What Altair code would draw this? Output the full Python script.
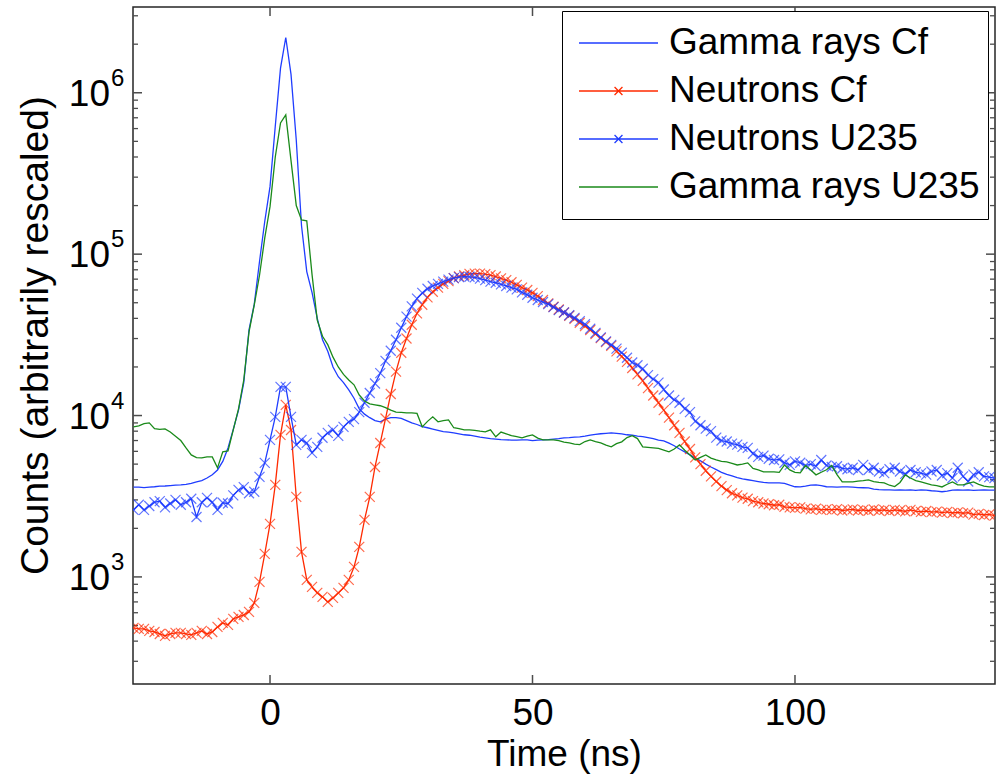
import altair as alt
import pandas as pd

# ---------------- data ----------------
T = list(range(-26, 139))  # time in ns, 1 ns bins

GAMMA_CF = [
    3600, 3600, 3580, 3600, 3620, 3650, 3660, 3680, 3700, 3720, 3750, 3800, 3880, 3950, 4100, 4300,
    4600, 5200, 6300, 8200, 10800, 16000, 34000, 49000, 90000, 160000,
    262000, 620000, 1420000, 2200000, 1300000, 510000, 150000, 78000, 58000, 40000, 29500, 25000, 20000,
    17400, 16000, 14400, 12800, 11000, 10200, 9700, 9300, 9150, 9500, 9700, 9700, 9600,
    9300, 9000, 8800, 8550, 8400, 8250, 8100, 7950, 7900, 7800, 7700, 7600, 7550, 7450, 7350,
    7270, 7200, 7150, 7100, 7070, 7050, 7050, 7070, 7070, 7000, 7050, 7070, 7100, 7150, 7200,
    7270, 7300, 7350, 7380, 7450, 7550, 7650, 7710, 7760, 7810, 7750, 7700, 7600, 7550, 7450,
    7400, 7300, 7200, 7050, 6970, 6750, 6500, 6200, 5950, 5700, 5450, 5250, 5000, 4800, 4620,
    4450, 4320, 4230, 4130, 4050, 4000, 3950, 3900, 3850, 3830, 3830, 3830, 3800, 3700, 3620,
    3610, 3650, 3700, 3720, 3680, 3620, 3610, 3600, 3610, 3610, 3600, 3580, 3570, 3560, 3500,
    3470, 3460, 3460, 3450, 3460, 3450, 3460, 3440, 3460, 3450, 3420, 3400, 3370, 3400, 3450,
    3460, 3450, 3460, 3440, 3450, 3460, 3450, 3450,
]

NEUTRONS_CF = [
    483, 476, 476, 463, 456, 443, 431, 443, 450, 450, 443, 437, 450, 463, 443, 456,
    490, 519, 504, 550, 565, 581, 607, 690, 931, 1390,
    2130, 3720, 7590, 11650, 8140, 3130, 1430, 958, 867, 796, 752, 700, 741,
    796, 855, 958, 1153, 1534, 2255, 3130, 4800, 6760, 9580, 13600, 18700, 24500,
    30000, 36500, 43000, 48600, 54000, 58500, 62000, 65500, 68000, 71000, 72800, 74000, 75500, 75800, 75800,
    75200, 74200, 72700, 70800, 69000, 67000, 64500, 62000, 60000, 57600, 55000, 52000, 49500, 47200, 45400,
    43500, 41500, 39800, 37600,
    35800, 33900, 32000, 30200, 28500, 27000, 25000, 23200, 21500, 19700, 18000, 16400, 14800, 13300, 12000,
    10800, 9700, 8700, 7800, 6900, 6200, 5500, 5000, 4550, 4200, 3900, 3650, 3450, 3300, 3200,
    3100, 3050, 2950, 2900, 2850, 2820, 2780, 2800, 2720, 2700, 2680, 2700, 2650, 2620, 2650,
    2600, 2620, 2600, 2630, 2580, 2600, 2620, 2580, 2600, 2570, 2620, 2580, 2600, 2560, 2600,
    2580, 2550, 2600, 2560, 2530, 2560, 2520, 2540, 2500, 2530, 2490, 2510, 2480, 2500, 2430,
    2460, 2420, 2440, 2400,
]

NEUTRONS_U235 = [
    2600, 2800, 2600, 2750, 2900, 2950, 2700, 2850, 3000, 2800, 2900, 3050, 2350, 2900, 3090, 2900,
    2600, 2880, 2850, 3200, 3460, 3600, 3300, 3370, 4170, 5090,
    7070, 9820, 15060, 15060, 9820, 6580, 7070, 6770, 5870, 6400, 7280, 7800, 8150, 7480, 8510, 9140, 9500,
    10500, 12000, 13800, 15800, 18300, 21800, 25200, 29500, 35000, 41000, 47500, 53000, 57500, 61000,
    63500, 65500, 67500, 69500, 71000, 72000, 72500, 72400, 71800, 70500, 69000, 67500, 66500, 65000, 63500,
    62000, 60500, 58000, 56000, 53700, 52000, 50500, 49000, 47000, 45000, 43500, 41800, 40300, 38500, 36800,
    34500, 32500, 30500, 28800, 27400,
    26000, 24500, 22800, 21300, 20500, 19500, 17800, 16800, 16000, 14500, 13300, 12500, 12000, 11000, 10500,
    9200, 8700, 8300, 8000, 7300, 7000, 6900, 6700, 6600, 6400, 6300, 5800, 5550, 5650, 5400,
    5300, 5350, 5100, 4950, 5200, 5100, 4900, 5000, 4850, 5300, 4900, 4800, 4850, 4700, 4650,
    4750, 4600, 4950, 4600, 4750, 4500, 4400, 4650, 4750, 4500, 4350, 4600, 4450, 4400, 4300,
    4500, 4600, 4250, 4400, 4100, 4750, 4200, 3900, 4300, 4450, 4200, 4150, 4100,
]

GAMMA_U235 = [
    8500, 8630, 8900, 9010, 8300, 8200, 8270, 7900, 7450, 7000, 6300, 5700, 5480, 5470, 5540, 5540,
    4740, 5960, 6040, 8150, 11000, 16600, 33000, 48500, 74000, 126000,
    197000, 400000, 650000, 730000, 380000, 200000, 163000, 161000, 75000, 39000, 31000, 27500, 23000,
    20000, 18000, 16600, 15500, 13400, 12300, 11800, 11650, 11500, 11200, 10800, 10500, 10450,
    10400, 10400, 10300, 8510, 9200, 9820, 9140, 9300, 9400, 8400, 8300, 8150, 8150, 8100, 8000,
    7925, 8150, 7380, 7900, 7700, 7500, 7400, 7270, 7450, 7590, 7250, 7070, 7070, 7070, 7000,
    6850, 6770, 6650, 6600, 6900, 7070, 6900, 6770, 6550, 6400, 6700, 6870, 7300, 7500, 7200,
    6400, 6350, 6310, 6250, 6100, 5960, 6200, 6580, 6100, 5700, 5310, 5500, 5700, 5450, 5310,
    5200, 5160, 5050, 4940, 5000, 5090, 4700, 4600, 4480, 4480, 4480, 4450, 4940, 4600, 4450,
    4410, 4900, 4600, 4290, 4450, 4610, 4900, 4300, 3880, 3880, 3880, 3920, 3950, 3990, 3900,
    3850, 3830, 3700, 3630, 3850, 4290, 4100, 3950, 3880, 3800, 3720, 3680, 3610, 3750, 3880,
    3720, 3720, 3800, 3880, 3750, 3650, 3610, 3610,
]

SERIES = ["Gamma rays Cf", "Neutrons Cf", "Neutrons U235", "Gamma rays U235"]
COLORS = ["#1f3dff", "#ff2a00", "#1f3dff", "#1a8a1a"]

X_TICKS = [0, 50, 100]
Y_MAJOR = [1e3, 1e4, 1e5, 1e6]
Y_EXP = ["3", "4", "5", "6"]
Y_MINOR = ([k * 100 for k in range(3, 10)] + [k * 1000 for k in range(2, 10)] +
           [k * 10000 for k in range(2, 10)] + [k * 100000 for k in range(2, 10)] +
           [2000000, 3000000])

# ---------------- build ----------------
rows = []
for name, vals in zip(SERIES, [GAMMA_CF, NEUTRONS_CF, NEUTRONS_U235, GAMMA_U235]):
    for t, v in zip(T, vals):
        rows.append({"t": t, "value": v, "series": name})
df = pd.DataFrame(rows)

W, H = 862, 677
FONT = "Liberation Sans"
FRAME = "#262626"
TICK = "#4d4d4d"
XPATH = "M-1,-1L1,1M-1,1L1,-1"
LINE_SYM = "M-1,0L1,0"
LINE_X_SYM = "M-1,0L1,0M-0.1,-0.1L0.1,0.1M-0.1,0.1L0.1,-0.1"

xscale = alt.Scale(domain=[-26.1, 138.1], nice=False, zero=False)
yscale = alt.Scale(type="log", domain=[217, 3.4e6], nice=False)

x_enc = alt.X("t:Q", scale=xscale, axis=alt.Axis(
    values=X_TICKS, ticks=False, domain=False, grid=False,
    labelFontSize=37, labelPadding=11, labelColor="black", labelFont=FONT,
    title="Time (ns)", titleFontSize=37, titleFontWeight="normal", titleFont=FONT,
    titleColor="black", titleY=70, titleBaseline="middle"))
y_enc = alt.Y("value:Q", scale=yscale, axis=alt.Axis(
    labels=False, ticks=False, domain=False, grid=False,
    title="Counts (arbitrarily rescaled)", titleFontSize=39, titleFontWeight="normal",
    titleFont=FONT, titleColor="black", titleAngle=-90, titleX=-98, titleY=328,
    titleAlign="center", titleBaseline="middle"))

base = alt.Chart(df)
layers = []
for name, col in zip(SERIES, COLORS):
    sub = base.transform_filter(alt.datum.series == name)
    layers.append(sub.mark_line(color=col, strokeWidth=1.3, clip=True).encode(x=x_enc, y=y_enc))
    if name.startswith("Neutrons"):
        layers.append(sub.mark_point(shape=XPATH, size=100, color=col, strokeWidth=1.2,
                                     filled=False, clip=True).encode(x=x_enc, y=y_enc))

# legend (hidden marks, legend only)
leg = alt.Legend(orient="none", legendX=429, legendY=4, padding=8, strokeColor="black",
                 fillColor="white", clipHeight=48, rowPadding=0, symbolOffset=8, labelOffset=10,
                 symbolSize=6241, symbolStrokeWidth=1.3, symbolOpacity=1, labelFontSize=37,
                 labelFont=FONT, labelColor="black", labelLimit=500, title=None)
legend_layer = alt.Chart(pd.DataFrame({"series": SERIES})).mark_point(opacity=0, filled=False).encode(
    color=alt.Color("series:N", scale=alt.Scale(domain=SERIES, range=COLORS), legend=leg),
    shape=alt.Shape("series:N", scale=alt.Scale(domain=SERIES,
                    range=[LINE_SYM, LINE_X_SYM, LINE_X_SYM, LINE_SYM]), legend=leg),
)

# inward ticks
ymaj = alt.Chart(pd.DataFrame({"value": Y_MAJOR}))
ymin = alt.Chart(pd.DataFrame({"value": Y_MINOR}))
xt = alt.Chart(pd.DataFrame({"t": X_TICKS}))
ticks = [
    ymaj.mark_rule(color=TICK, strokeWidth=1.5).encode(y=y_enc, x=alt.value(0), x2=alt.value(9)),
    ymaj.mark_rule(color=TICK, strokeWidth=1.5).encode(y=y_enc, x=alt.value(W), x2=alt.value(W - 9)),
    ymin.mark_rule(color=TICK, strokeWidth=1.3).encode(y=y_enc, x=alt.value(0), x2=alt.value(5)),
    ymin.mark_rule(color=TICK, strokeWidth=1.3).encode(y=y_enc, x=alt.value(W), x2=alt.value(W - 5)),
    xt.mark_rule(color=TICK, strokeWidth=1.5).encode(x=x_enc, y=alt.value(H), y2=alt.value(H - 9)),
    xt.mark_rule(color=TICK, strokeWidth=1.5).encode(x=x_enc, y=alt.value(0), y2=alt.value(9)),
]

# y tick labels 10^n
ylab_df = pd.DataFrame({"value": Y_MAJOR, "base": ["10"] * 4, "exp": Y_EXP})
ylab = alt.Chart(ylab_df)
ylabels = [
    ylab.mark_text(align="right", baseline="middle", fontSize=37, font=FONT, color="black", dy=2)
        .encode(y=y_enc, x=alt.value(-23), text="base:N"),
    ylab.mark_text(align="left", baseline="middle", fontSize=24, font=FONT, color="black", dy=-14)
        .encode(y=y_enc, x=alt.value(-22), text="exp:N"),
]

chart = alt.layer(*ticks, *layers, legend_layer, *ylabels).properties(
    width=W, height=H,
    padding={"left": 133, "top": 7, "right": 5, "bottom": 95},
    autosize=alt.AutoSizeParams(type="none"),
    background="white",
).configure(font=FONT).configure_view(stroke=FRAME, strokeWidth=1.5)

chart.save("out.html", embed_options={"renderer": "svg", "actions": False})
